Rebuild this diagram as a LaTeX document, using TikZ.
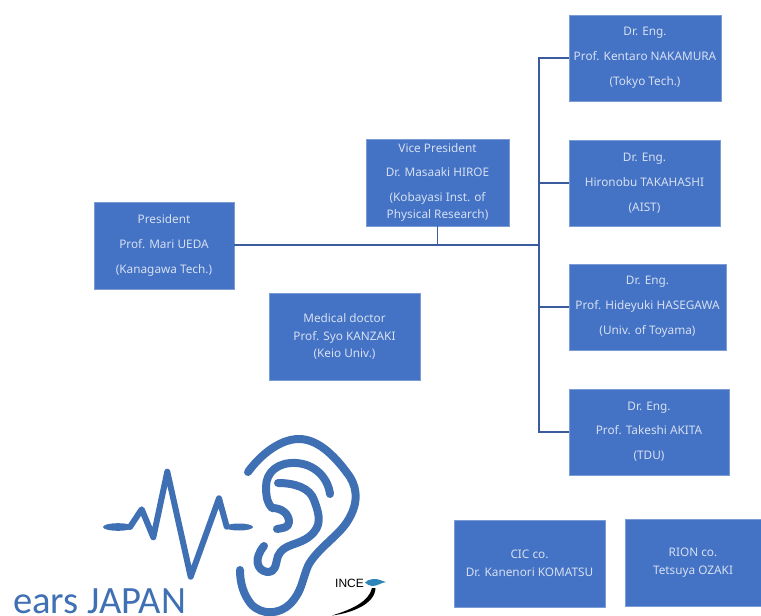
\documentclass[tikz,border=0pt]{standalone}
\usepackage{fontspec}
\setmainfont{Noto Sans}
\newfontfamily\logofont{Carlito}
\newfontfamily\incefont{Liberation Sans}
\definecolor{boxblue}{HTML}{4472C4}
\definecolor{boxtext}{HTML}{D6E0F2}
\definecolor{linkblue}{HTML}{3A5C9E}
\definecolor{earblue}{HTML}{4070B4}
\definecolor{incesky}{HTML}{2E86B8}
\tikzset{
  member/.style={fill=boxblue,text=boxtext,draw=boxblue!70!white,line width=.4pt,inner sep=0pt,
    align=center,font=\fontsize{11.8}{14}\selectfont},
  link/.style={draw=linkblue,line width=1.6pt},
  earline/.style={draw=earblue,line width=8pt,line cap=round,line join=round},
  pulseline/.style={draw=earblue,line width=6pt,line cap=round,line join=round}
}
\begin{document}
\begin{tikzpicture}[x=1pt,y=-1pt]
      \useasboundingbox (0,0) rectangle (761,616);

      \begin{scope}[every node/.style={member}]
        \node[minimum width=140pt,minimum height=87pt] (president) at (164,245.5) {President\\[11pt]Prof. Mari UEDA\\[11pt](Kanagawa Tech.)};
        \node[minimum width=143pt,minimum height=87pt] (vice) at (437.5,182.5) {Vice President\\[10pt]Dr. Masaaki HIROE\\[11pt](Kobayasi Inst. of\\[3pt]Physical Research)};
        \node[minimum width=151pt,minimum height=87pt] (medical) at (344.5,336.5) {Medical doctor\\[3.5pt]Prof. Syo KANZAKI\\[3.5pt](Keio Univ.)};
        \node[minimum width=152pt,minimum height=86pt] (eng1) at (645,58) {Dr. Eng.\\[11pt]Prof. Kentaro NAKAMURA\\[11pt](Tokyo Tech.)};
        \node[minimum width=151pt,minimum height=86pt] (eng2) at (644.5,183) {Dr. Eng.\\[11pt]Hironobu TAKAHASHI\\[11pt](AIST)};
        \node[minimum width=157pt,minimum height=86pt] (eng3) at (647.5,307) {Dr. Eng.\\[11pt]Prof. Hideyuki HASEGAWA\\[11pt](Univ. of Toyama)};
        \node[minimum width=160pt,minimum height=86pt] (eng4) at (649,432) {Dr. Eng.\\[10pt]Prof. Takeshi AKITA\\[11pt](TDU)};
        \node[minimum width=151pt,minimum height=87pt] (cic) at (529.5,563.5) {CIC co.\\[3.5pt]Dr. Kanenori KOMATSU};
        \node[minimum width=136pt,minimum height=87pt] (rion) at (693,562.5) {RION co.\\[3.5pt]Tetsuya OZAKI};
      \end{scope}

      \coordinate (junction) at (539,245);
      \path[link] (president.east |- junction) -- (junction);
      \path[link] (vice.south) -- (vice.south |- junction);
      \path[link] (junction) |- (eng1.west);
      \path[link] (junction) |- (eng2.west);
      \path[link] (junction) |- (eng3.west);
      \path[link] (junction) |- (eng4.west);

      % pulse
      \fill[earblue] (118,527) ellipse [x radius=15pt,y radius=3.8pt];
      \fill[earblue] (239,527) ellipse [x radius=14pt,y radius=3.5pt];
      \path[pulseline] (130,527) -- (141.7,509.3) -- (153.3,537.3) -- (167.3,471.7) -- (190.7,576.7) -- (219,498.3) -- (226.7,526.7);

      % ear
      \path[earline] (248,472) .. controls (258,458) and (278,439) .. (299,439) .. controls (320,439) and (338,460) .. (350,477) .. controls (358,490) and (358,505) .. (347,522) .. controls (338,536) and (316,550) .. (308,566) .. controls (302,580) and (302,592) .. (290,604) .. controls (280,614) and (262,616) .. (251,604) .. controls (243,594) and (240,582) .. (240,570);
      \path[earline] (330,494) .. controls (328,478) and (315,464) .. (296,463) .. controls (278,462) and (266,472) .. (266,487) .. controls (266,498) and (268,504) .. (272,508) .. controls (282,508) and (289,514) .. (289,522) .. controls (289,528) and (282,528) .. (277,529);
      \path[earline] (278,483) .. controls (295,483) and (310,488) .. (314,500) .. controls (320,516) and (322,526) .. (310,536) .. controls (298,546) and (284,543) .. (278,556) .. controls (275,566) and (276,572) .. (267,572) .. controls (256,570) and (254,558) .. (264,546);

      % logo
      \node[font=\incefont\fontsize{12}{12}\selectfont,inner sep=0pt] (ince) at (349.5,583) {INCE};
      \fill[incesky] (365,582.5) .. controls (368,579) and (376,578) .. (380,580) -- (386,582) .. controls (380,583) and (378,586) .. (372,586) .. controls (369,586) and (367,584) .. (365,582.5) -- cycle;
      \fill[black] (372,588) .. controls (369,602) and (350,610) .. (332,615.5) .. controls (352,613) and (375,604) .. (375.5,588) -- cycle;

      \node[font=\logofont\fontsize{38.6}{40}\selectfont,text=earblue,inner sep=0pt,anchor=base west] (title) at (13,613) {ears JAPAN};

\end{tikzpicture}
\end{document}
